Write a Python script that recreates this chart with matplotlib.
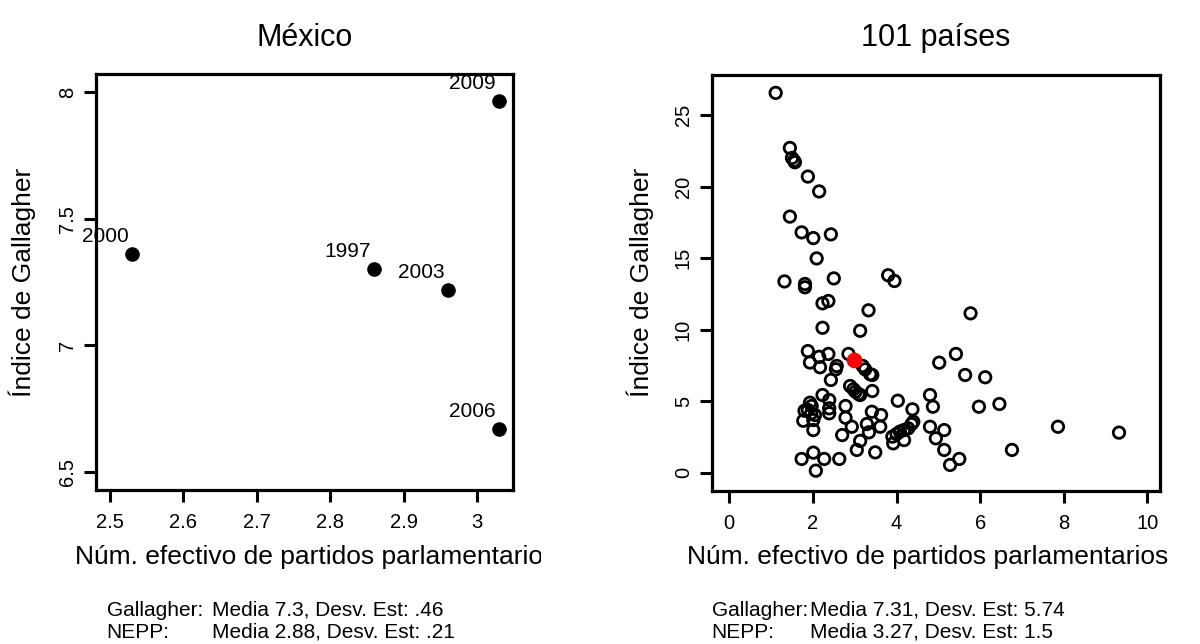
import matplotlib
matplotlib.use("Agg")
import matplotlib.pyplot as plt
from matplotlib.transforms import Bbox, TransformedBbox

plt.rcParams["font.family"] = ["Liberation Sans", "DejaVu Sans"]

# México: elecciones legislativas
mx_years = ["1997", "2000", "2003", "2006", "2009"]
mx_nepp = [2.86, 2.53, 2.96, 3.03, 3.03]
mx_gallagher = [7.30, 7.36, 7.22, 6.67, 7.965]

# 101 países
world_nepp = [
    1.11, 1.45, 1.50, 1.55, 1.57, 1.88, 2.15, 1.45, 1.73, 2.01, 2.43, 2.09,
    1.32, 1.81, 1.81, 2.50, 3.80, 3.95, 2.23, 2.37, 3.33, 2.23, 3.13, 1.88,
    2.15, 2.37, 1.93, 2.17, 2.57, 2.55, 2.85, 3.19, 3.25, 3.37, 3.42, 2.43,
    2.89, 2.97, 3.02, 3.09, 3.13, 3.42, 2.23, 2.39, 1.93, 1.97, 1.88, 1.80,
    1.96, 2.05, 1.77, 2.01, 2.01, 2.39, 2.39, 2.78, 2.78, 2.93, 2.70, 3.41,
    3.63, 3.29, 3.34, 3.61, 3.13, 3.05, 3.49, 4.03, 4.38, 3.90, 4.00, 4.08,
    4.18, 4.28, 4.36, 4.40, 3.92, 4.18, 1.73, 2.01, 2.27, 2.63, 2.07, 5.77,
    5.42, 5.02, 5.64, 6.12, 4.80, 4.87, 5.97, 6.46, 4.80, 5.14, 4.94, 5.14,
    5.50, 5.28, 6.76, 7.86, 9.32,
]
world_gallagher = [
    26.55, 22.70, 22.00, 21.80, 21.70, 20.70, 19.66, 17.90, 16.80, 16.40, 16.66, 14.98,
    13.37, 13.19, 12.96, 13.58, 13.80, 13.40, 11.84, 12.00, 11.35, 10.13, 9.92, 8.50,
    8.10, 8.30, 7.70, 7.37, 7.46, 7.23, 8.30, 7.46, 7.22, 6.88, 6.83, 6.48,
    6.06, 5.83, 5.66, 5.50, 5.43, 5.71, 5.43, 5.08, 4.89, 4.66, 4.38, 4.33,
    4.15, 4.03, 3.63, 3.68, 2.98, 4.50, 4.15, 4.66, 3.84, 3.21, 2.63, 4.26,
    4.03, 3.40, 2.82, 3.21, 2.22, 1.59, 1.42, 5.03, 4.43, 2.52, 2.70, 2.87,
    2.98, 3.10, 3.40, 3.56, 2.05, 2.28, 0.96, 1.40, 0.96, 0.96, 0.14, 11.14,
    8.30, 7.69, 6.83, 6.67, 5.43, 4.61, 4.61, 4.80, 3.21, 2.98, 2.40, 1.59,
    0.96, 0.54, 1.59, 3.21, 2.80,
]
mexico_nepp = [2.99]
mexico_gallagher = [7.87]

left_stats = ["Gallagher:", "Media 7.3, Desv. Est: .46", "NEPP:", "Media 2.88, Desv. Est: .21"]
right_stats = ["Gallagher:", "Media 7.31, Desv. Est: 5.74", "NEPP:", "Media 3.27, Desv. Est: 1.5"]

W, H = 1200, 644
fig = plt.figure(figsize=(12, 6.44), dpi=100)


def px(x, y):
    """Convierte píxeles (desde arriba a la izquierda) a fracción de figura."""
    return x / W, 1 - y / H


def style_axes(ax):
    for s in ax.spines.values():
        s.set_linewidth(2.3)
    ax.tick_params(direction="out", length=8.5, width=2.2, labelsize=14.5,
                   top=False, right=False)
    ax.tick_params(axis="x", pad=8)
    ax.tick_params(axis="y", pad=5)
    for lab in ax.get_yticklabels():
        lab.set_rotation(90)
        lab.set_va("center")


ax1 = fig.add_axes([96 / W, 1 - 490 / H, 417 / W, 416 / H])
ax1.scatter(mx_nepp, mx_gallagher, s=90, color="black", zorder=3)
for xv, yv, lab in zip(mx_nepp, mx_gallagher, mx_years):
    ax1.annotate(lab, (xv, yv), xytext=(-2.5, 12.5), textcoords="offset points",
                 ha="right", va="center", fontsize=15)
ax1.set_xlim(2.481, 3.049)
ax1.set_ylim(6.429, 8.071)
ax1.set_xticks([2.5, 2.6, 2.7, 2.8, 2.9, 3.0])
ax1.set_xticklabels(["2.5", "2.6", "2.7", "2.8", "2.9", "3"])
ax1.set_yticks([6.5, 7, 7.5, 8])
ax1.set_yticklabels(["6.5", "7", "7.5", "8"])
style_axes(ax1)

ax2 = fig.add_axes([711.7 / W, 1 - 490.7 / H, 448.3 / W, 415.7 / H])
ax2.scatter(world_nepp, world_gallagher, s=68, facecolors="none",
            edgecolors="black", linewidths=2.0, zorder=3)
ax2.scatter(mexico_nepp, mexico_gallagher, s=105, color="red", zorder=4)
ax2.set_xlim(-0.42, 10.30)
ax2.set_ylim(-1.26, 27.8)
ax2.set_xticks([0, 2, 4, 6, 8, 10])
ax2.set_yticks([0, 5, 10, 15, 20, 25])
style_axes(ax2)

fig.text(*px(304.5, 38), "México", ha="center", va="center", fontsize=22)
fig.text(*px(936, 38), "101 países", ha="center", va="center", fontsize=22)

fig.text(*px(22, 282), "Índice de Gallagher", rotation=90, ha="center",
         va="center", fontsize=19)
fig.text(*px(640, 282), "Índice de Gallagher", rotation=90, ha="center",
         va="center", fontsize=19)

xl = fig.text(*px(75, 557), "Núm. efectivo de partidos parlamentarios",
              ha="left", va="center", fontsize=19)
xl.set_clip_box(TransformedBbox(Bbox.from_extents(0, 0, 541 / W, 1), fig.transFigure))
xl.set_clip_on(True)
fig.text(*px(687, 557), "Núm. efectivo de partidos parlamentarios",
         ha="left", va="center", fontsize=19)

for (x0, x1), stats in [((106.7, 211.7), left_stats), ((711.7, 810), right_stats)]:
    fig.text(*px(x0, 610), stats[0], ha="left", va="center", fontsize=15)
    fig.text(*px(x1, 610), stats[1], ha="left", va="center", fontsize=15)
    fig.text(*px(x0, 632), stats[2], ha="left", va="center", fontsize=15)
    fig.text(*px(x1, 632), stats[3], ha="left", va="center", fontsize=15)

fig.savefig("out.png", dpi=100)
